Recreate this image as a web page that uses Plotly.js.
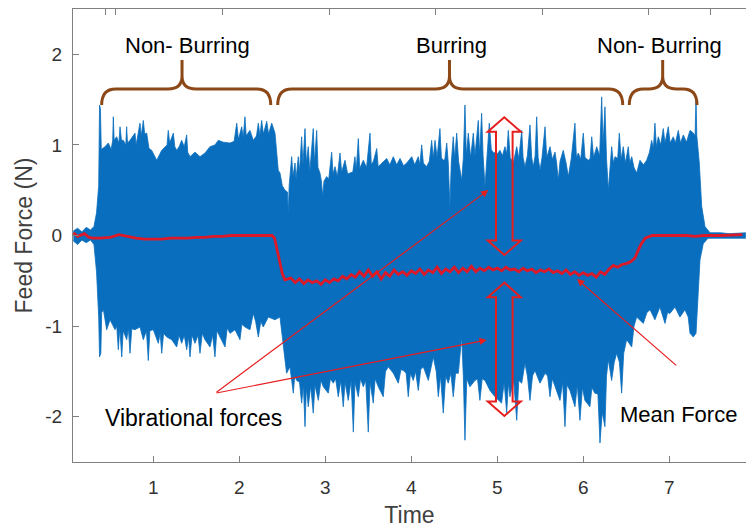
<!DOCTYPE html>
<html><head><meta charset="utf-8">
<script src="https://cdn.plot.ly/plotly-3.0.1.min.js"></script>
<style>html,body{margin:0;padding:0;background:#fff;}#chart{width:746px;height:531px;}</style>
</head><body><div id="chart"></div>
<script>
// Upper envelope of the vibration signal: [time, force]
const upperEnvelope = [[0.07,0.05],[0.12,0.08],[0.17,0.04],[0.22,0.09],[0.27,0.06],[0.31,0.10],[0.34,0.25],[0.365,0.55],[0.375,1.44],[0.385,1.40],[0.395,0.95],[0.438,0.98],[0.477,1.02],[0.51,0.95],[0.528,1.05],[0.535,1.31],[0.545,1.05],[0.574,1.09],[0.60,1.02],[0.613,1.20],[0.63,1.05],[0.651,1.05],[0.68,1.00],[0.69,1.20],[0.70,1.02],[0.729,1.05],[0.787,1.13],[0.80,1.00],[0.845,1.24],[0.86,1.10],[0.884,1.27],[0.90,1.12],[0.923,1.13],[0.95,0.96],[0.981,0.94],[1.04,0.83],[1.098,0.94],[1.16,1.00],[1.174,1.16],[1.19,1.02],[1.233,1.13],[1.25,0.98],[1.272,0.94],[1.30,0.98],[1.33,1.05],[1.36,0.98],[1.388,1.11],[1.40,0.92],[1.427,0.87],[1.485,0.92],[1.543,0.87],[1.601,0.91],[1.659,0.98],[1.717,1.00],[1.756,1.05],[1.814,1.03],[1.892,1.02],[1.94,1.04],[1.97,1.24],[1.99,1.06],[2.028,1.20],[2.045,1.08],[2.066,1.31],[2.08,1.10],[2.124,1.16],[2.163,1.05],[2.20,1.10],[2.221,1.24],[2.24,1.10],[2.26,1.27],[2.28,1.12],[2.319,1.26],[2.34,1.12],[2.377,1.24],[2.415,1.13],[2.435,0.87],[2.453,0.72],[2.473,0.69],[2.50,0.55],[2.531,0.50],[2.56,0.48],[2.57,0.24],[2.58,0.55],[2.609,0.87],[2.625,0.65],[2.648,0.80],[2.66,0.62],[2.686,0.87],[2.70,0.70],[2.725,1.09],[2.74,0.78],[2.764,1.18],[2.78,0.80],[2.802,0.98],[2.82,0.70],[2.86,1.18],[2.875,0.80],[2.90,1.16],[2.915,0.75],[2.938,0.69],[2.955,0.60],[2.97,0.43],[2.985,0.60],[3.016,0.65],[3.04,0.62],[3.074,0.92],[3.09,0.68],[3.113,0.76],[3.14,0.65],[3.171,0.91],[3.19,0.70],[3.229,0.83],[3.26,0.68],[3.287,0.69],[3.32,0.70],[3.345,0.87],[3.36,0.72],[3.384,1.07],[3.40,0.74],[3.442,0.83],[3.48,0.75],[3.52,1.13],[3.535,0.78],[3.56,0.82],[3.598,0.96],[3.615,0.76],[3.656,0.80],[3.714,0.85],[3.75,0.78],[3.791,0.87],[3.83,0.78],[3.869,0.85],[3.91,0.77],[3.947,0.80],[4.005,0.87],[4.04,0.78],[4.081,0.87],[4.10,0.78],[4.121,1.00],[4.14,0.80],[4.179,0.76],[4.21,0.82],[4.237,1.05],[4.255,0.85],[4.276,1.05],[4.30,0.86],[4.333,1.18],[4.35,0.86],[4.372,0.83],[4.39,0.84],[4.412,1.02],[4.43,0.80],[4.449,0.32],[4.465,0.80],[4.488,1.09],[4.505,0.85],[4.528,1.13],[4.55,0.82],[4.586,0.61],[4.605,0.85],[4.624,1.44],[4.64,0.88],[4.663,1.13],[4.69,0.86],[4.721,1.13],[4.74,0.88],[4.779,1.27],[4.795,0.90],[4.818,1.35],[4.835,0.88],[4.857,0.54],[4.88,0.90],[4.907,1.24],[4.93,0.95],[4.95,0.92],[5.0,0.90],[5.031,0.94],[5.06,0.88],[5.089,0.98],[5.11,0.90],[5.128,1.16],[5.15,0.86],[5.186,0.80],[5.226,0.98],[5.25,0.85],[5.284,1.16],[5.30,0.86],[5.322,0.76],[5.35,0.88],[5.38,1.22],[5.40,0.86],[5.419,0.76],[5.44,0.88],[5.458,1.31],[5.475,0.86],[5.497,0.72],[5.52,0.86],[5.555,1.20],[5.575,0.86],[5.613,0.98],[5.64,0.84],[5.671,0.92],[5.69,0.80],[5.709,0.61],[5.73,0.82],[5.767,0.94],[5.80,0.80],[5.826,0.65],[5.86,0.85],[5.903,1.24],[5.92,0.86],[5.942,0.91],[5.97,0.84],[6.0,1.13],[6.02,0.86],[6.058,0.83],[6.08,0.85],[6.098,1.09],[6.12,0.86],[6.156,0.98],[6.19,0.88],[6.214,1.53],[6.23,1.00],[6.252,1.42],[6.27,0.85],[6.291,0.50],[6.31,0.80],[6.33,0.98],[6.35,0.80],[6.369,0.87],[6.40,0.85],[6.419,1.13],[6.44,0.84],[6.465,0.98],[6.49,0.80],[6.523,0.98],[6.54,0.80],[6.563,0.87],[6.59,0.75],[6.621,0.69],[6.659,0.83],[6.70,0.78],[6.737,0.83],[6.77,0.92],[6.795,1.05],[6.815,0.96],[6.833,1.24],[6.85,0.98],[6.872,1.09],[6.90,1.00],[6.93,1.18],[6.95,1.02],[6.988,1.20],[7.01,1.02],[7.047,1.09],[7.07,1.02],[7.105,1.16],[7.13,1.02],[7.163,1.11],[7.20,1.03],[7.241,1.16],[7.28,1.13],[7.30,1.10],[7.311,1.53],[7.32,1.10],[7.349,0.80],[7.377,0.32],[7.415,0.10],[7.473,0.03],[7.6,0.03],[7.7,0.02],[7.89,0.03]];
// Lower envelope of the vibration signal: [time, force]
const lowerEnvelope = [[0.07,-0.06],[0.12,-0.10],[0.17,-0.05],[0.22,-0.08],[0.27,-0.05],[0.31,-0.10],[0.34,-0.40],[0.365,-0.90],[0.375,-1.34],[0.39,-1.30],[0.40,-0.85],[0.42,-0.82],[0.458,-1.04],[0.497,-0.93],[0.555,-1.04],[0.575,-1.00],[0.593,-1.26],[0.61,-1.02],[0.633,-1.34],[0.65,-1.05],[0.691,-1.15],[0.71,-1.02],[0.729,-1.30],[0.75,-1.03],[0.787,-1.04],[0.845,-1.01],[0.884,-1.15],[0.92,-1.05],[0.942,-1.38],[0.96,-1.05],[1.0,-1.04],[1.058,-1.19],[1.08,-1.08],[1.098,-1.30],[1.12,-1.08],[1.156,-1.12],[1.214,-1.15],[1.272,-1.23],[1.30,-1.10],[1.33,-1.19],[1.36,-1.10],[1.388,-1.26],[1.41,-1.12],[1.427,-1.34],[1.45,-1.10],[1.485,-1.19],[1.52,-1.10],[1.543,-1.30],[1.57,-1.08],[1.601,-1.15],[1.659,-1.23],[1.69,-1.10],[1.717,-1.34],[1.74,-1.05],[1.776,-1.12],[1.834,-1.23],[1.86,-1.02],[1.892,-1.08],[1.95,-1.04],[2.008,-1.15],[2.03,-0.98],[2.066,-1.01],[2.124,-1.04],[2.163,-0.86],[2.19,-0.95],[2.221,-1.12],[2.25,-0.95],[2.279,-1.01],[2.337,-0.90],[2.415,-0.93],[2.473,-0.90],[2.512,-1.19],[2.55,-1.52],[2.589,-1.45],[2.628,-1.74],[2.645,-1.55],[2.667,-1.60],[2.70,-1.62],[2.725,-1.85],[2.745,-1.65],[2.764,-2.11],[2.78,-1.68],[2.802,-1.89],[2.83,-1.66],[2.86,-1.96],[2.88,-1.65],[2.919,-1.82],[2.95,-1.60],[2.977,-1.67],[3.035,-1.74],[3.06,-1.58],[3.093,-1.63],[3.12,-1.58],[3.151,-1.78],[3.18,-1.60],[3.209,-1.89],[3.23,-1.62],[3.267,-1.82],[3.30,-1.60],[3.326,-2.17],[3.345,-1.62],[3.384,-1.78],[3.41,-1.58],[3.442,-1.67],[3.47,-1.60],[3.5,-2.17],[3.52,-1.62],[3.558,-1.85],[3.58,-1.58],[3.616,-1.67],[3.674,-1.78],[3.70,-1.50],[3.733,-1.45],[3.791,-1.52],[3.849,-1.63],[3.88,-1.48],[3.907,-1.49],[3.94,-1.52],[3.965,-1.78],[3.99,-1.52],[4.023,-1.60],[4.05,-1.50],[4.081,-1.71],[4.11,-1.48],[4.14,-1.45],[4.198,-1.60],[4.23,-1.45],[4.256,-1.34],[4.29,-1.50],[4.314,-1.78],[4.34,-1.55],[4.372,-1.96],[4.40,-1.55],[4.43,-1.63],[4.46,-1.52],[4.488,-1.78],[4.515,-1.52],[4.547,-1.52],[4.586,-1.12],[4.605,-1.55],[4.624,-2.26],[4.645,-1.58],[4.682,-1.67],[4.74,-1.60],[4.77,-1.58],[4.798,-1.82],[4.825,-1.58],[4.857,-1.60],[4.915,-1.71],[4.973,-1.78],[5.05,-1.85],[5.08,-1.62],[5.109,-1.96],[5.13,-1.62],[5.147,-1.78],[5.19,-1.60],[5.226,-2.04],[5.25,-1.60],[5.284,-1.63],[5.322,-1.41],[5.35,-1.55],[5.38,-1.82],[5.41,-1.55],[5.438,-1.49],[5.497,-1.63],[5.555,-1.52],[5.585,-1.55],[5.613,-1.78],[5.64,-1.58],[5.671,-1.67],[5.729,-1.82],[5.76,-1.62],[5.787,-2.11],[5.81,-1.65],[5.845,-1.71],[5.903,-1.89],[5.93,-1.65],[5.961,-2.04],[5.99,-1.68],[6.019,-1.82],[6.077,-1.89],[6.10,-1.68],[6.135,-1.74],[6.17,-1.75],[6.194,-2.29],[6.22,-1.95],[6.252,-2.11],[6.27,-1.55],[6.291,-1.37],[6.33,-1.60],[6.36,-1.40],[6.388,-1.30],[6.42,-1.40],[6.446,-1.74],[6.47,-1.30],[6.504,-1.15],[6.563,-1.23],[6.59,-1.00],[6.621,-0.90],[6.698,-0.97],[6.74,-0.85],[6.776,-0.82],[6.833,-0.93],[6.891,-0.79],[6.95,-0.97],[6.98,-0.85],[7.008,-0.86],[7.066,-0.79],[7.124,-0.90],[7.182,-0.82],[7.22,-0.90],[7.241,-1.08],[7.279,-1.12],[7.311,-1.08],[7.337,-0.68],[7.357,-0.27],[7.395,-0.09],[7.45,-0.03],[7.6,-0.03],[7.89,-0.03]];
// Mean force
const meanTime = [0.07,0.12,0.2,0.25,0.3,0.38,0.5,0.6,0.7,0.8,0.9,1.0,1.1,1.2,1.3,1.4,1.5,1.6,1.7,1.8,1.9,2.0,2.1,2.2,2.3,2.38,2.41,2.44,2.47,2.5,2.53,2.6,2.65,2.7,2.75,2.8,2.85,2.9,2.95,3.0,3.05,3.1,3.15,3.2,3.25,3.3,3.35,3.4,3.45,3.5,3.55,3.6,3.65,3.7,3.75,3.8,3.85,3.9,3.95,4.0,4.05,4.1,4.15,4.2,4.25,4.3,4.35,4.4,4.45,4.5,4.55,4.6,4.65,4.7,4.75,4.8,4.85,4.9,4.95,5.0,5.05,5.1,5.15,5.2,5.25,5.3,5.35,5.4,5.45,5.5,5.55,5.6,5.65,5.7,5.75,5.8,5.85,5.9,5.95,6.0,6.05,6.1,6.15,6.2,6.25,6.3,6.35,6.4,6.45,6.5,6.55,6.6,6.63,6.67,6.72,6.8,7.0,7.2,7.3,7.4,7.6,7.85];
const meanForce = [0.03,-0.01,0.02,-0.02,-0.03,-0.03,-0.02,0.01,-0.01,-0.03,-0.04,-0.04,-0.04,-0.03,-0.03,-0.03,-0.02,-0.02,-0.01,-0.01,0.0,0.0,0.0,0.0,0.0,0.0,-0.03,-0.16,-0.27,-0.42,-0.49,-0.47,-0.52,-0.48,-0.53,-0.49,-0.52,-0.50,-0.54,-0.49,-0.52,-0.48,-0.50,-0.45,-0.48,-0.43,-0.46,-0.40,-0.45,-0.38,-0.45,-0.40,-0.48,-0.41,-0.45,-0.38,-0.43,-0.40,-0.44,-0.39,-0.42,-0.37,-0.43,-0.38,-0.41,-0.35,-0.42,-0.37,-0.40,-0.35,-0.41,-0.36,-0.40,-0.34,-0.40,-0.36,-0.39,-0.35,-0.38,-0.36,-0.39,-0.35,-0.38,-0.37,-0.40,-0.36,-0.39,-0.37,-0.41,-0.38,-0.40,-0.37,-0.41,-0.39,-0.42,-0.38,-0.43,-0.40,-0.44,-0.41,-0.44,-0.42,-0.46,-0.40,-0.43,-0.37,-0.33,-0.35,-0.32,-0.31,-0.29,-0.25,-0.18,-0.10,-0.03,0.0,0.0,0.0,-0.01,0.0,0.0,0.01];
const xTicks = [1,2,3,4,5,6,7];
const yTicks = [-2,-1,0,1,2];
const topTicks = [0.44,0.566,1.807,3.047,4.28,5.52,6.76,7.48];

// pixel -> paper helpers for decorations (margins: l73 r0 t9 b69)
const W = 673, H = 453;
const px = x => ((x - 73) / W).toFixed(4);
const py = y => ((462 - y) / H).toFixed(4);
const P = (x, y) => px(x) + ',' + py(y);

function brace(x1, x2, xm) {
  return 'M' + P(x1,105) + ' Q' + P(x1,89) + ' ' + P(x1+14,89) +
    ' L' + P(xm-14,89) + ' Q' + P(xm,89) + ' ' + P(xm,76) + ' L' + P(xm,60) +
    ' M' + P(xm,76) + ' Q' + P(xm,89) + ' ' + P(xm+14,89) +
    ' L' + P(x2-14,89) + ' Q' + P(x2,89) + ' ' + P(x2,105);
}
function dblArrow(xc, yTop, yBot) {
  const hw = 16.5, sw = 8.3, hh = 14.5;
  return 'M' + P(xc,yTop) + ' L' + P(xc-hw,yTop+hh) + ' L' + P(xc-sw,yTop+hh) +
    ' L' + P(xc-sw,yBot-hh) + ' L' + P(xc-hw,yBot-hh) + ' L' + P(xc,yBot) +
    ' L' + P(xc+hw,yBot-hh) + ' L' + P(xc+sw,yBot-hh) + ' L' + P(xc+sw,yTop+hh) +
    ' L' + P(xc+hw,yTop+hh) + ' Z';
}
const brown = 'rgb(140,72,22)';
const red = 'rgb(230,30,30)';
const shapes = [
  {type:'path', xref:'paper', yref:'paper', path: brace(101.7,270.7,182), line:{color:brown,width:3}},
  {type:'path', xref:'paper', yref:'paper', path: brace(277.7,622.7,449.5), line:{color:brown,width:3}},
  {type:'path', xref:'paper', yref:'paper', path: brace(629.3,697,662.7), line:{color:brown,width:3}},
  {type:'path', xref:'paper', yref:'paper', path: dblArrow(504.3,117.3,255), line:{color:red,width:2}},
  {type:'path', xref:'paper', yref:'paper', path: dblArrow(504.3,282.7,416), line:{color:red,width:2}}
];
function arrow(tx, ty, hx, hy) {
  return {x: +px(hx), y: +py(hy), xref:'paper', yref:'paper', text:'', showarrow:true,
    ax: tx - hx, ay: ty - hy, arrowhead:2, arrowsize:1.2, arrowwidth:1.2, arrowcolor:red};
}
const font = 'Liberation Sans, Arial, sans-serif';
function label(t, x, y, size) {
  return {x: +px(x), y: +py(y), xref:'paper', yref:'paper', text:t, showarrow:false,
    xanchor:'center', yanchor:'middle', font:{family:font, size:size, color:'#000'}};
}
const annotations = [
  label('Non- Burring', 187, 45, 22),
  label('Burring', 451.5, 45, 22),
  label('Non- Burring', 660, 45, 22),
  label('Vibrational forces', 193.5, 418, 23),
  label('Mean Force', 679, 415, 22),
  arrow(215, 393.3, 488.3, 190),
  arrow(215, 393.3, 486.7, 340),
  arrow(677.7, 366.7, 577, 279)
];

const blue = 'rgb(10,110,190)';
const traces = [
  {x: lowerEnvelope.map(p => p[0]), y: lowerEnvelope.map(p => p[1]), type:'scatter', mode:'lines', line:{color:blue,width:0.8}, hoverinfo:'skip', showlegend:false},
  {x: upperEnvelope.map(p => p[0]), y: upperEnvelope.map(p => p[1]), type:'scatter', mode:'lines', fill:'tonexty', fillcolor:blue, line:{color:blue,width:0.8}, name:'Vibrational forces', showlegend:false},
  {x: meanTime, y: meanForce, type:'scatter', mode:'lines', line:{color:'rgb(220,25,40)',width:2.8}, name:'Mean Force', showlegend:false},
  {x: [], y: [], xaxis:'x2', type:'scatter', showlegend:false}
];
const axColor = '#808080';
const layout = {
  width:746, height:531,
  margin:{l:73, r:0, t:9, b:69},
  paper_bgcolor:'#fff', plot_bgcolor:'#fff',
  showlegend:false,
  font:{family:font, color:'#333'},
  xaxis:{range:[0.0663,7.892], tickvals:xTicks, ticktext:xTicks.map(String), ticks:'inside', ticklen:6, tickcolor:axColor,
    showline:true, linecolor:axColor, linewidth:1, showgrid:false, zeroline:false,
    tickfont:{size:19, color:'#333'}, ticklabelstandoff:8,
    title:{text:'Time', font:{size:23, color:'#404040'}, standoff:10}},
  xaxis2:{overlaying:'x', side:'top', anchor:'y', range:[0.0663,7.892], tickvals:topTicks, showticklabels:false,
    ticks:'inside', ticklen:6, tickcolor:axColor, showline:true, linecolor:axColor, linewidth:1, showgrid:false, zeroline:false},
  yaxis:{range:[-2.5,2.5], tickvals:yTicks, ticktext:yTicks.map(String), ticks:'inside', ticklen:6, tickcolor:axColor,
    showline:true, linecolor:axColor, linewidth:1, showgrid:false, zeroline:false,
    tickfont:{size:19, color:'#333'}, ticklabelstandoff:6,
    title:{text:'Feed Force (N)', font:{size:23, color:'#404040'}, standoff:6}},
  shapes: shapes,
  annotations: annotations
};
Plotly.newPlot('chart', traces, layout, {displayModeBar:false, staticPlot:true});
</script></body></html>
